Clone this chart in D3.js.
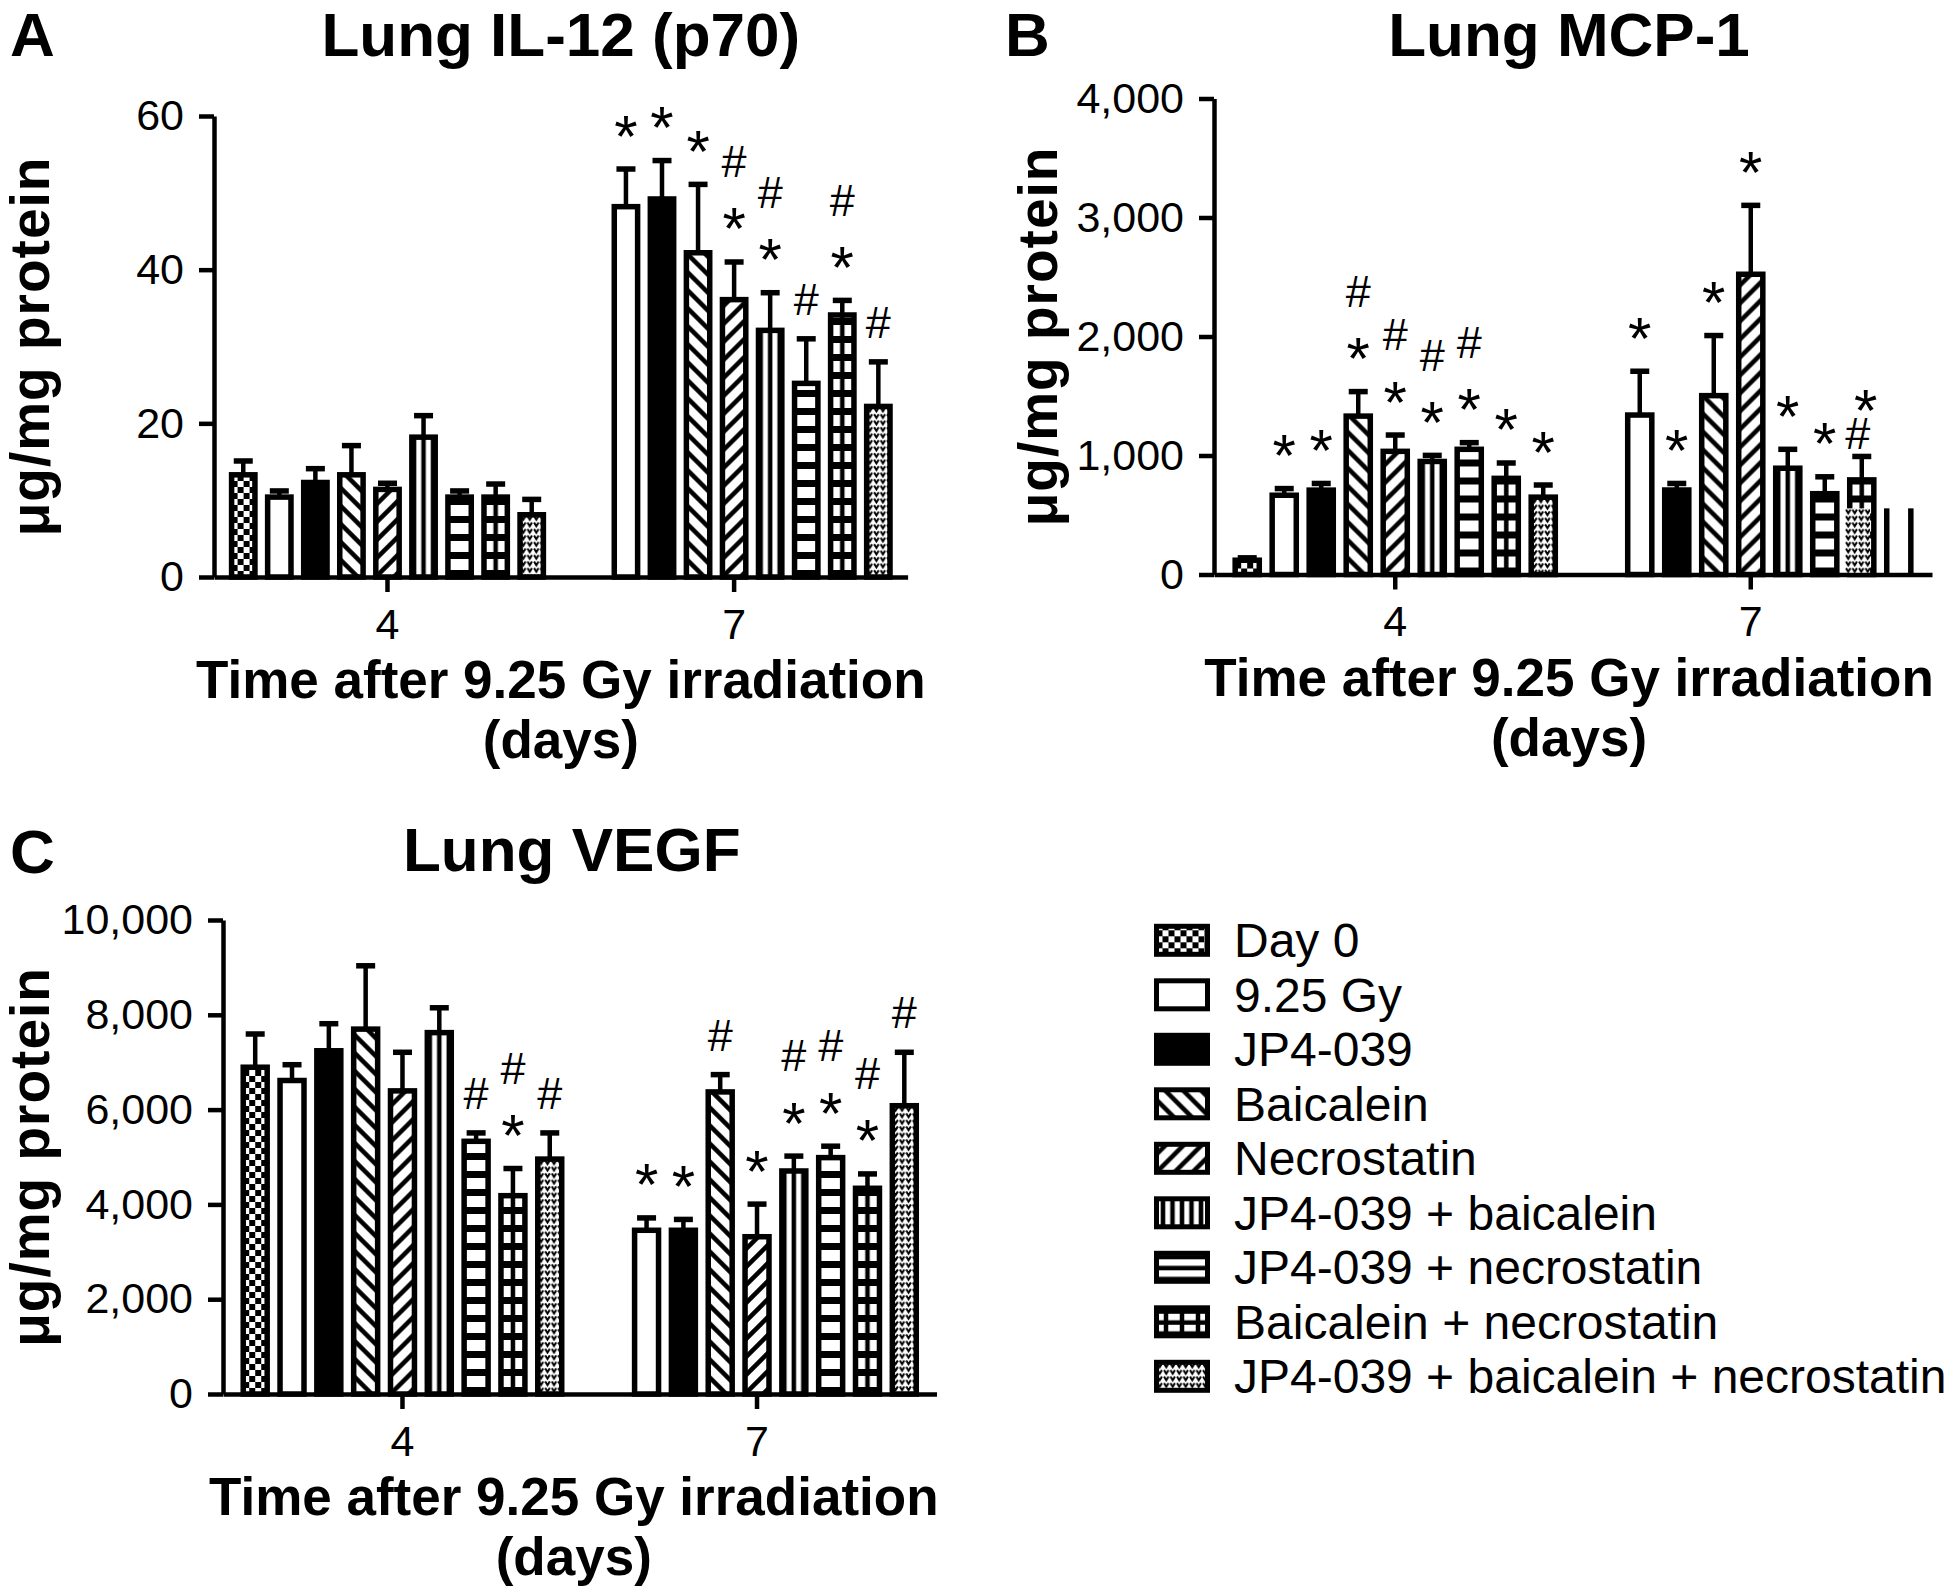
<!DOCTYPE html>
<html><head><meta charset="utf-8">
<script src="https://cdn.jsdelivr.net/npm/d3@7"></script>
<style>
body{margin:0;background:#fff}
svg{display:block}
text{font-family:"Liberation Sans",Arial,Helvetica,sans-serif;fill:#000}
</style>
</head><body>
<svg id="chart" width="1950" height="1595"></svg>
<script>
// ---------------- DATA ----------------
const series = ["Day 0","9.25 Gy","JP4-039","Baicalein","Necrostatin",
  "JP4-039 + baicalein","JP4-039 + necrostatin","Baicalein + necrostatin",
  "JP4-039 + baicalein + necrostatin"];
const days = ["4","7"];

// Lung IL-12 (p70)
const il12Ticks = [0,20,40,60];
const il12Day4    = [13.3,10.4,12.3,13.3,11.4,18.2,10.4,10.4,8.1];
const il12Day4Err = [1.8,0.8,1.8,3.8,0.8,2.8,0.8,1.7,2.0];
const il12Day7    = [null,48.2,49.2,42.2,36.1,32.1,25.2,34.1,22.2];
const il12Day7Err = [null,4.9,5.0,8.9,4.9,4.9,5.8,1.9,5.8];
const il12Day4Sig = ["","","","","","","","",""];
const il12Day7Sig = ["","*","*","*","#*","#*","#","#*","#"];

// Lung MCP-1
const mcpTicks = [0,1000,2000,3000,4000];
const mcpDay4    = [120,666,709,1331,1035,950,1052,808,650];
const mcpDay4Err = [20,56,56,206,137,51,56,129,102];
const mcpDay7    = [null,1340,710,1503,2523,893,679,795,556];
const mcpDay7Err = [null,368,55,505,579,159,142,197,null];
const mcpDay4Sig = ["","*","*","#*","#*","#*","#*","*","*"];
const mcpDay7Sig = ["","*","*","*","*","*","*","*#",""];

// Lung VEGF
const vegfTicks = [0,2000,4000,6000,8000,10000];
const vegfDay4    = [6894,6614,7241,7698,6395,7624,5331,4184,4956];
const vegfDay4Err = [701,333,571,1336,814,524,177,573,552];
const vegfDay7    = [null,3454,3454,6373,3318,4705,4987,4340,6082];
const vegfDay7Err = [null,261,229,365,688,314,241,303,1127];
const vegfDay4Sig = ["","","","","","","#","#*","#"];
const vegfDay7Sig = ["","*","*","#","*","#*","#*","#*","#"];

const yLabel = "\u03BCg/mg protein";
const xLabel1 = "Time after 9.25 Gy irradiation";
const xLabel2 = "(days)";

// ---------------- LAYOUT ----------------
const panels = [
  {letter:"A", title:"Lung IL-12 (p70)", ticks:il12Ticks, max:60,
   vals:[il12Day4,il12Day7], errs:[il12Day4Err,il12Day7Err], sigs:[il12Day4Sig,il12Day7Sig],
   left:214, right:907.6, top:116, bottom:577, pIn:0.043, pOut:0.022,
   letterX:10, letterY:56, titleY:56, titleDx:0, xTitleDx:0, yLabX:32, glitch:false},
  {letter:"B", title:"Lung MCP-1", ticks:mcpTicks, max:4000,
   vals:[mcpDay4,mcpDay7], errs:[mcpDay4Err,mcpDay7Err], sigs:[mcpDay4Sig,mcpDay7Sig],
   left:1214, right:1932, top:98.5, bottom:574.5, pIn:0.0425, pOut:0.031,
   letterX:1005, letterY:56, titleY:56, titleDx:-4, xTitleDx:-4, yLabX:1040, glitch:true},
  {letter:"C", title:"Lung VEGF", ticks:vegfTicks, max:10000,
   vals:[vegfDay4,vegfDay7], errs:[vegfDay4Err,vegfDay7Err], sigs:[vegfDay4Sig,vegfDay7Sig],
   left:223, right:936.5, top:920, bottom:1394, pIn:0.0446, pOut:0.0285,
   letterX:10, letterY:873, titleY:871, titleDx:-8, xTitleDx:-6, yLabX:32, glitch:false}
];

const svg = d3.select("#chart");
const defs = svg.append("defs");
const SW = 5.5;     // bar outline
const AX = 4.5;     // axis stroke
const fmt = d3.format(",");
const STAR = 60, HASH = 45;

let pid = 0;
function fillFor(si, x, y, w, h, legend) {
  if (si === 1) return "#fff";
  if (si === 2) return "#000";
  const id = "pat" + (pid++);
  const p = defs.append("pattern").attr("id", id).attr("patternUnits","userSpaceOnUse");
  if (si === 0) {
    p.attr("x", x).attr("y", y + h).attr("width", 12).attr("height", 12);
    p.append("rect").attr("width",12).attr("height",12).attr("fill","#fff");
    p.append("rect").attr("width",6).attr("height",6).attr("fill","#000");
    p.append("rect").attr("x",6).attr("y",6).attr("width",6).attr("height",6).attr("fill","#000");
  } else if (si === 3 || si === 4) {
    const t = 18;
    p.attr("x", x).attr("y", y + h).attr("width", t).attr("height", t);
    p.append("rect").attr("width",t).attr("height",t).attr("fill","#fff");
    const d = si === 3
      ? `M-4.5,-4.5L${t+4.5},${t+4.5}M-4.5,${t-4.5}L4.5,${t+4.5}M${t-4.5},-4.5L${t+4.5},4.5`
      : `M-4.5,${t+4.5}L${t+4.5},-4.5M-4.5,4.5L4.5,-4.5M${t-4.5},${t+4.5}L${t+4.5},${t-4.5}`;
    p.append("path").attr("d", d).attr("stroke","#000").attr("stroke-width",4.5).attr("fill","none");
  } else if (si === 5) {
    const t = 9.5;
    p.attr("x", x + w/2 - t/2).attr("y", 0).attr("width", t).attr("height", 10);
    p.append("rect").attr("width",t).attr("height",10).attr("fill","#fff");
    p.append("rect").attr("x",t/2-2.25).attr("width",4.5).attr("height",10).attr("fill","#000");
  } else if (si === 6 || si === 7) {
    const th = legend ? 11 : 18, bh = legend ? 4.5 : 7;
    const tw = si === 7 ? (legend ? 16 : w) : 10;
    p.attr("x", si === 7 ? x + w/2 - tw/2 : x).attr("y", y + h).attr("width", tw).attr("height", th);
    p.append("rect").attr("width",tw).attr("height",th).attr("fill","#fff");
    p.append("rect").attr("y",th-bh).attr("width",tw).attr("height",bh).attr("fill","#000");
    if (si === 7) p.append("rect").attr("x",tw/2-2.25).attr("width",4.5).attr("height",th).attr("fill","#000");
  } else if (si === 8) {
    const t = 6.5;
    p.attr("x", x).attr("y", y).attr("width", t).attr("height", t);
    p.append("rect").attr("width",t).attr("height",t).attr("fill","#fff");
    p.append("path").attr("d","M1,1.3L3.25,5L5.5,1.3").attr("stroke","#000")
      .attr("stroke-width",1.9).attr("fill","none");
  }
  return `url(#${id})`;
}

function addSig(g, cx, errTop, s) {
  const chars = s.split("").reverse(); // bottom first
  const starOverHash = s === "*#";
  let c = null;
  chars.forEach((ch, j) => {
    if (j === 0) c = errTop - (starOverHash ? 24 : (ch === "*" ? 47 : 40));
    else c = c - (starOverHash ? 36 : 54);
    if (ch === "*") {
      g.append("text").attr("x", cx + (starOverHash ? 4 : 0)).attr("y", c + 0.575*STAR).attr("text-anchor","middle")
        .attr("font-size", STAR).text("*");
    } else {
      g.append("text").attr("x", cx - (starOverHash ? 4 : 0)).attr("y", c + 0.36*HASH).attr("text-anchor","middle")
        .attr("font-size", HASH).text("#");
    }
  });
}

panels.forEach(P => {
  const g = svg.append("g");
  const y = d3.scaleLinear().domain([0, P.max]).range([P.bottom, P.top]);
  const x0 = d3.scaleBand().domain(days).range([P.left, P.right])
    .paddingInner(P.pIn).paddingOuter(P.pOut);
  const x1 = d3.scaleBand().domain(series).range([0, x0.bandwidth()]).padding(0.2);
  const bw = x1.bandwidth();

  // bars
  days.forEach((day, di) => {
    const vals = P.vals[di], errs = P.errs[di], sigs = P.sigs[di];
    series.forEach((s, si) => {
      const v = vals[si];
      if (v == null) return;
      const bx = x0(day) + x1(s);
      const cx = bx + bw/2;
      const isGlitch = P.glitch && day === "7" && si === 8;
      if (isGlitch) {
        // rendering artefact of the original: fill shifted into the previous slot, outline sides only
        const px = x0(day) + x1(series[7]);
        const rx = px - 2, rw = bw - SW + 1;
        g.append("rect").attr("x", rx).attr("y", y(v)).attr("width", rw).attr("height", y(0) - y(v))
          .attr("fill", fillFor(8, rx, y(v), rw, y(0)-y(v), false));
        [bx + SW/2, bx + bw - SW/2].forEach(lx => {
          g.append("line").attr("x1", lx).attr("x2", lx).attr("y1", y(v)).attr("y2", y(0))
            .attr("stroke","#000").attr("stroke-width", SW);
        });
        return;
      }
      const rx = bx + SW/2, rw = bw - SW, ry = y(v), rh = y(0) - y(v);
      g.append("rect").attr("x", rx).attr("y", ry).attr("width", rw).attr("height", rh)
        .attr("fill", fillFor(si, rx, ry, rw, rh, false))
        .attr("stroke","#000").attr("stroke-width", SW);
      const e = errs[si];
      let errTop = y(v);
      if (e != null && e > 0) {
        errTop = y(v + e);
        g.append("line").attr("x1", cx).attr("x2", cx).attr("y1", y(v)).attr("y2", errTop)
          .attr("stroke","#000").attr("stroke-width", 4.5);
        g.append("line").attr("x1", cx - 9.5).attr("x2", cx + 9.5).attr("y1", errTop).attr("y2", errTop)
          .attr("stroke","#000").attr("stroke-width", 5.5);
      }
      if (sigs[si]) addSig(g, cx, errTop, sigs[si]);
    });
  });

  // axes
  const ya = g.append("g").attr("transform", `translate(${P.left},0)`)
    .call(d3.axisLeft(y).tickValues(P.ticks).tickFormat(fmt).tickSize(15).tickPadding(15).tickSizeOuter(0));
  const xa = g.append("g").attr("transform", `translate(0,${P.bottom})`)
    .call(d3.axisBottom(x0).tickSize(15).tickPadding(16).tickSizeOuter(0));
  [ya, xa].forEach(a => {
    a.select(".domain").attr("stroke","#000").attr("stroke-width", AX);
    a.selectAll(".tick line").attr("stroke","#000").attr("stroke-width", AX);
    a.selectAll(".tick text").attr("font-size", 43).attr("font-family",'"Liberation Sans",Arial,sans-serif').attr("fill","#000");
  });

  const mid = (P.left + P.right) / 2;
  // titles
  g.append("text").attr("x", P.letterX).attr("y", P.letterY).attr("font-size", 62)
    .attr("font-weight","bold").text(P.letter);
  g.append("text").attr("x", mid + P.titleDx).attr("y", P.titleY).attr("text-anchor","middle")
    .attr("font-size", 62).attr("font-weight","bold").text(P.title);
  g.append("text").attr("x", mid + P.xTitleDx).attr("y", P.bottom + 121).attr("text-anchor","middle")
    .attr("font-size", 53).attr("font-weight","bold").text(xLabel1);
  g.append("text").attr("x", mid + P.xTitleDx).attr("y", P.bottom + 181).attr("text-anchor","middle")
    .attr("font-size", 53).attr("font-weight","bold").text(xLabel2);
  const ymid = (P.top + P.bottom) / 2;
  g.append("text").attr("transform", `translate(${P.yLabX + 17},${ymid}) rotate(-90)`)
    .attr("text-anchor","middle").attr("font-size", 55).attr("font-weight","bold")
    .attr("letter-spacing", 1).text(yLabel);
});

// legend
const lg = svg.append("g");
series.forEach((s, si) => {
  const cy = 940.3 + si * 54.5;
  const rx = 1156.5, rw = 51, ry = cy - 14, rh = 28;
  lg.append("rect").attr("x", rx).attr("y", ry).attr("width", rw).attr("height", rh)
    .attr("fill", fillFor(si, rx, ry, rw, rh, true))
    .attr("stroke","#000").attr("stroke-width", 5);
  lg.append("text").attr("x", 1234).attr("y", cy + 17).attr("font-size", 48).text(s);
});
</script>
</body></html>
